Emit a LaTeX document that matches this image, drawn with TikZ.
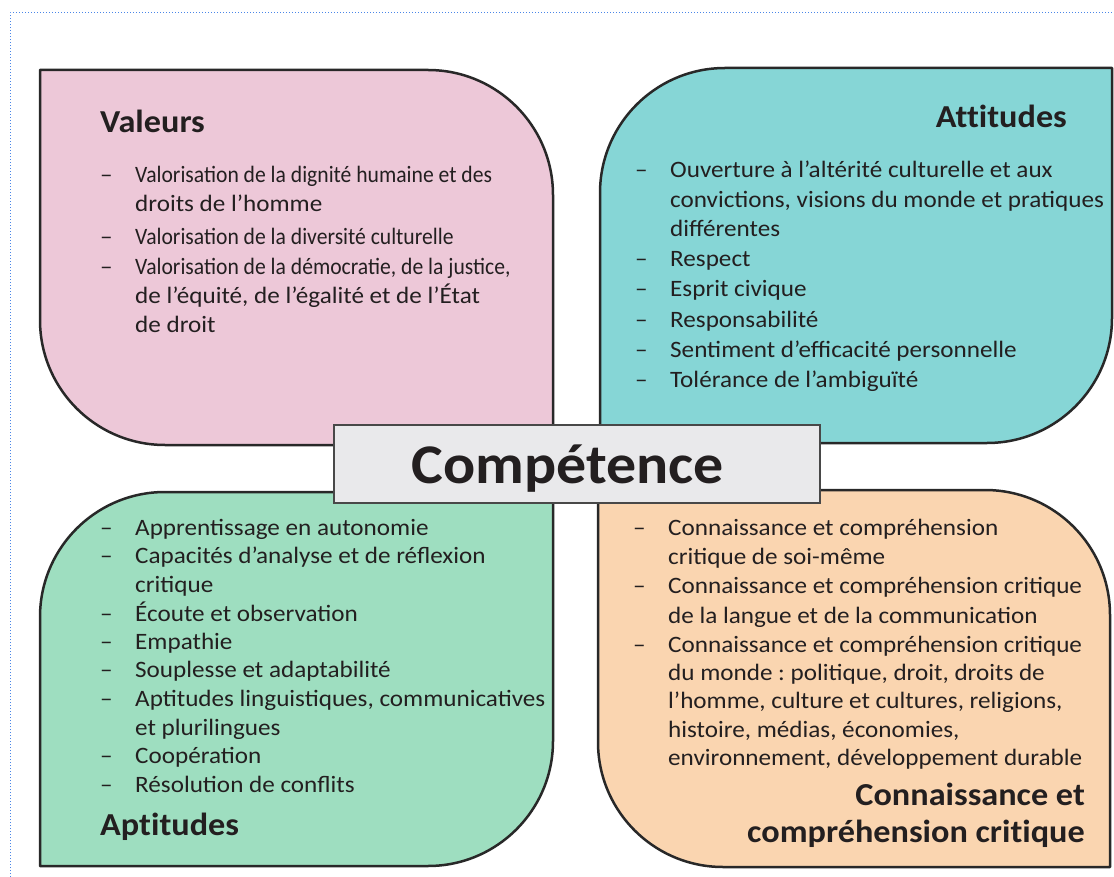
\documentclass[tikz,border=0pt]{standalone}
\usepackage{fontspec}
\setmainfont[FakeStretch=1.07]{Carlito}
\newfontfamily\condfont[FakeStretch=0.92]{Carlito}
\frenchspacing
\definecolor{pinkbox}{RGB}{237,200,216}
\definecolor{tealbox}{RGB}{134,214,214}
\definecolor{greenbox}{RGB}{158,222,192}
\definecolor{orangebox}{RGB}{250,213,176}
\definecolor{graybox}{RGB}{233,233,235}
\definecolor{edge}{RGB}{40,40,40}
\definecolor{ink}{RGB}{35,31,32}
\definecolor{framecol}{RGB}{74,134,232}
\tikzset{
  quad/.style={draw=edge, line width=2.5pt, line join=round},
  body/.style={anchor=base west, inner sep=0pt, text=ink, font=\fontsize{23.5}{27}\selectfont},
  head/.style={inner sep=0pt, text=ink, font=\bfseries\fontsize{32}{36}\selectfont\addfontfeature{Ligatures=NoCommon}},
}
\begin{document}
\begin{tikzpicture}[x=1pt,y=-1pt]
\def\R{125}
\fill[white] (0,0) rectangle (1114,877);
\useasboundingbox (0,0) rectangle (1114,877);
\draw[framecol, line width=1pt, dotted] (10,877) -- (10,13) -- (1114,13);
% quadrants
\draw[quad, fill=pinkbox] (40,70) -- (553-\R,70) arc[start angle=270,end angle=360,radius=\R] -- (553,445) -- (40+\R,445) arc[start angle=90,end angle=180,radius=\R] -- cycle;
\draw[quad, fill=tealbox] (600,68+\R) arc[start angle=180,end angle=270,radius=\R] -- (1112,68) -- (1112,443-\R) arc[start angle=0,end angle=90,radius=\R] -- (600,443) -- cycle;
\draw[quad, fill=greenbox] (40,492+\R) arc[start angle=180,end angle=270,radius=\R] -- (553,492) -- (553,866-\R) arc[start angle=0,end angle=90,radius=\R] -- (40,866) -- cycle;
\draw[quad, fill=orangebox] (598,490) -- (1110-\R,490) arc[start angle=270,end angle=360,radius=\R] -- (1110,867) -- (598+\R,867) arc[start angle=90,end angle=180,radius=\R] -- cycle;
% centre
\node[draw=edge!85, line width=2.2pt, fill=graybox, minimum width=486pt, minimum height=78pt, inner sep=0pt] (compbox) at (577,464) {};
\node[anchor=base, inner sep=0pt, text=ink, font=\bfseries\fontsize{56}{60}\selectfont] (comp) at (567.5,483) {Compétence};
% headings
\node[head, anchor=base west] (valh) at (100,133) {Valeurs};
\node[head, anchor=base east] (atth) at (1067,128) {Attitudes};
\node[head, anchor=base west] (apth) at (100,835) {Aptitudes};
\node[head, anchor=base east] (conh1) at (1085,805) {Connaissance et};
\node[head, anchor=base east] (conh2) at (1085,842) {compréhension critique};
% dashes
\foreach \yy [count=\k] in {183,245,275} \node[body] (vald\k) at (100,\yy) {–};
\foreach \yy [count=\k] in {178,267,297,327,357,388} \node[body] (attd\k) at (635,\yy) {–};
\foreach \yy [count=\k] in {535,563,621,649,677,706,763,792} \node[body] (aptd\k) at (100,\yy) {–};
\foreach \yy [count=\k] in {535,593,652} \node[body] (cond\k) at (633,\yy) {–};
% Valeurs
\node[body] (val1) at (135,183) {\condfont Valorisation de la dignité humaine et des};
\node[body] (val2) at (135,212) {droits de l’homme};
\node[body] (val3) at (135,245) {\condfont Valorisation de la diversité culturelle};
\node[body] (val4) at (135,275) {\condfont Valorisation de la démocratie, de la justice,};
\node[body] (val5) at (135,304) {de l’équité, de l’égalité et de l’État};
\node[body] (val6) at (135,333) {de droit};
% Attitudes
\node[body] (att1) at (670,178) {Ouverture à l’altérité culturelle et aux};
\node[body] (att2) at (670,208) {convictions, visions du monde et pratiques};
\node[body] (att3) at (670,237) {différentes};
\node[body] (att4) at (670,267) {Respect};
\node[body] (att5) at (670,297) {Esprit civique};
\node[body] (att6) at (670,327) {Responsabilité};
\node[body] (att7) at (670,357) {Sentiment d’efficacité personnelle};
\node[body] (att8) at (670,388) {Tolérance de l’ambiguïté};
% Aptitudes
\node[body] (apt1) at (135,535) {Apprentissage en autonomie};
\node[body] (apt2) at (135,563) {Capacités d’analyse et de réflexion};
\node[body] (apt3) at (135,592) {critique};
\node[body] (apt4) at (135,621) {Écoute et observation};
\node[body] (apt5) at (135,649) {Empathie};
\node[body] (apt6) at (135,677) {Souplesse et adaptabilité};
\node[body] (apt7) at (135,706) {Aptitudes linguistiques, communicatives};
\node[body] (apt8) at (135,735) {et plurilingues};
\node[body] (apt9) at (135,763) {Coopération};
\node[body] (apt10) at (135,792) {Résolution de conflits};
% Connaissance
\node[body] (con1) at (668,535) {Connaissance et compréhension};
\node[body] (con2) at (668,564) {critique de soi-même};
\node[body] (con3) at (668,593) {Connaissance et compréhension critique};
\node[body] (con4) at (668,623) {de la langue et de la communication};
\node[body] (con5) at (668,652) {Connaissance et compréhension critique};
\node[body] (con6) at (668,680) {du monde : politique, droit, droits de};
\node[body] (con7) at (668,708) {l’homme, culture et cultures, religions,};
\node[body] (con8) at (668,737) {histoire, médias, économies,};
\node[body] (con9) at (668,765) {environnement, développement durable};
\end{tikzpicture}
\end{document}
